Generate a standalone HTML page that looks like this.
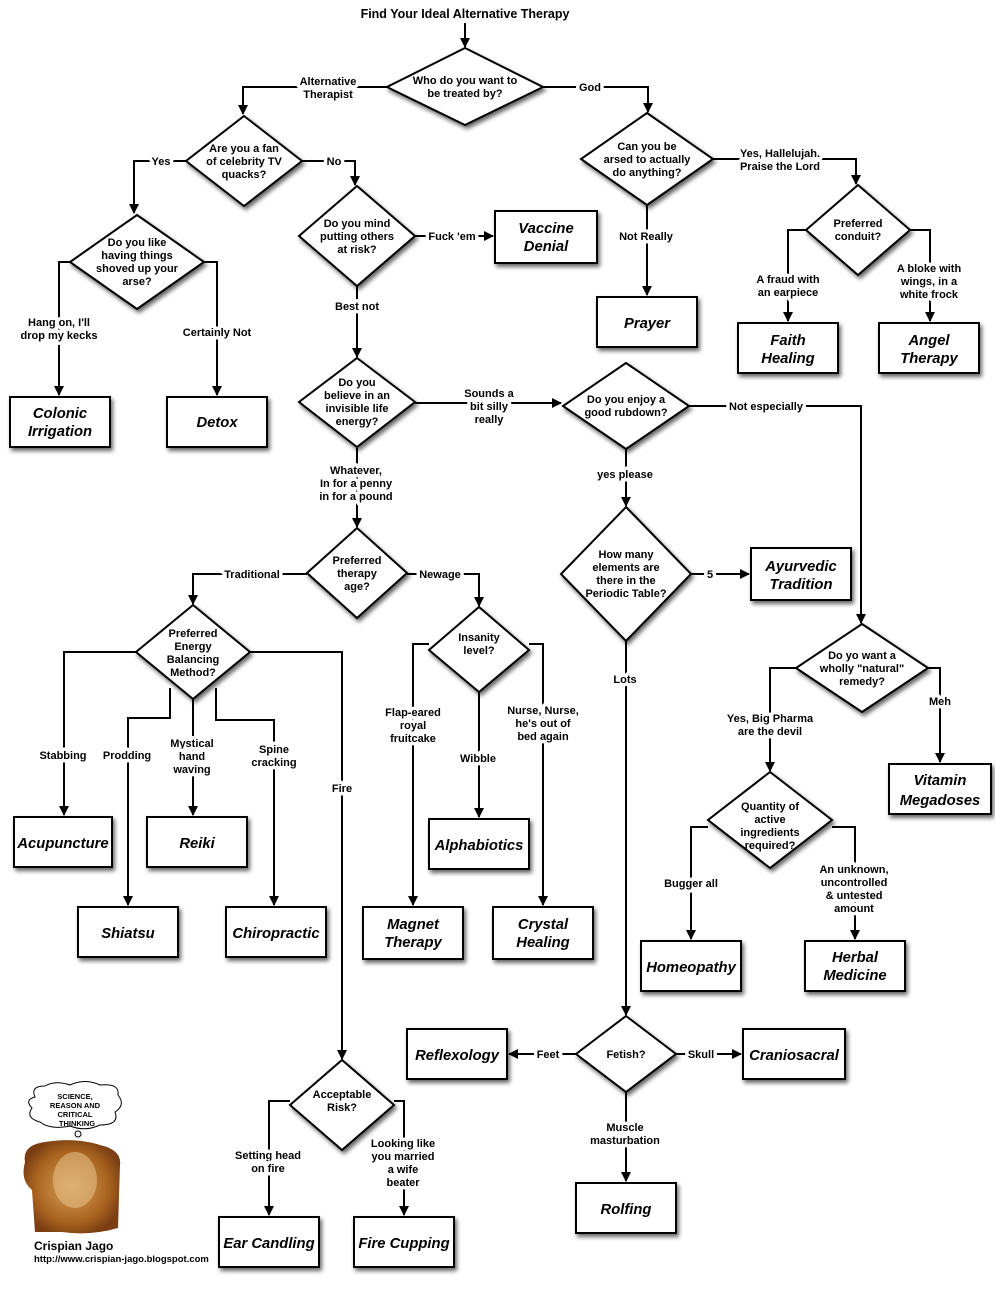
<!DOCTYPE html>
<html><head><meta charset="utf-8"><style>
html,body{margin:0;padding:0;background:#fff;}
svg{display:block;font-family:"Liberation Sans",Arial,sans-serif;}
.d{fill:#fff;stroke:#000;stroke-width:2;filter:url(#sh);}
.b{fill:#fff;stroke:#000;stroke-width:2;filter:url(#sh);}
.l{fill:none;stroke:#000;stroke-width:2;}
.a{fill:none;stroke:#000;stroke-width:2;marker-end:url(#ar);}
.t{font-size:11px;font-weight:bold;text-anchor:middle;}
.lb{font-size:11px;font-weight:bold;text-anchor:middle;paint-order:stroke;stroke:#fff;stroke-width:7px;stroke-linejoin:round;}
.bx{font-size:14.8px;font-weight:bold;font-style:italic;text-anchor:middle;}
</style></head><body>
<svg width="995" height="1298" viewBox="0 0 995 1298">
<defs>
<marker id="ar" markerWidth="10" markerHeight="10" refX="9" refY="5" orient="auto" markerUnits="userSpaceOnUse"><path d="M0,0 L10,5 L0,10 z" fill="#000"/></marker>
<filter id="sh" x="-20%" y="-20%" width="150%" height="150%"><feDropShadow dx="2" dy="3" stdDeviation="2" flood-color="#000" flood-opacity="0.6"/></filter>
<radialGradient id="tg" cx="50%" cy="50%" r="55%"><stop offset="0" stop-color="#d9a35a"/><stop offset="0.7" stop-color="#a8621f"/><stop offset="1" stop-color="#7a3e12"/></radialGradient>
</defs>

<text x="465" y="18" style="font-size:12.5px;font-weight:bold;text-anchor:middle">Find Your Ideal Alternative Therapy</text>

<path class="a" d="M465,23 V47"/>
<path class="a" d="M387,87 H243 V114"/>
<path class="a" d="M543,87 H648 V112"/>
<path class="a" d="M186,161 H134 V213"/>
<path class="a" d="M302,161 H355 V185"/>
<path class="a" d="M70,262 H59 V395"/>
<path class="a" d="M204,262 H217 V395"/>
<path class="a" d="M415,236 H493"/>
<path class="a" d="M357,286 V357"/>
<path class="a" d="M415,403 H561"/>
<path class="a" d="M357,448 V527"/>
<path class="a" d="M307,574 H193 V604"/>
<path class="a" d="M407,574 H479 V606"/>
<path class="a" d="M136,652 H64 V815"/>
<path class="a" d="M170,688 V718 H128 V905"/>
<path class="a" d="M193,699 V815"/>
<path class="a" d="M216,688 V720 H274 V905"/>
<path class="a" d="M250,652 H342 V1059"/>
<path class="a" d="M429,644 H413 V905"/>
<path class="a" d="M479,692 V817"/>
<path class="a" d="M529,644 H543 V905"/>
<path class="a" d="M647,205 V295"/>
<path class="a" d="M713,159 H856 V184"/>
<path class="a" d="M806,230 H788 V321"/>
<path class="a" d="M910,230 H930 V321"/>
<path class="a" d="M689,406 H861 V623"/>
<path class="a" d="M626,449 V506"/>
<path class="a" d="M691,574 H749"/>
<path class="a" d="M626,641 V1015"/>
<path class="a" d="M796,668 H770 V771"/>
<path class="a" d="M928,668 H940 V762"/>
<path class="a" d="M708,827 H691 V939"/>
<path class="a" d="M832,827 H855 V939"/>
<path class="a" d="M576,1054 H509"/>
<path class="a" d="M676,1054 H741"/>
<path class="a" d="M626,1092 V1181"/>
<path class="a" d="M290,1101 H269 V1215"/>
<path class="a" d="M394,1101 H404 V1215"/>

<polygon class="d" points="465,48 543,87 465,125 387,87"/>
<polygon class="d" points="244,116 302,161 244,206 186,161"/>
<polygon class="d" points="137,215 204,262 137,309 70,262"/>
<polygon class="d" points="357,186 415,236 357,286 299,236"/>
<polygon class="d" points="357,358 415,402 357,447 299,402"/>
<polygon class="d" points="357,528 407,573 357,618 307,573"/>
<polygon class="d" points="193,605 250,652 193,699 136,652"/>
<polygon class="d" points="479,607 529,650 479,692 429,650"/>
<polygon class="d" points="647,113 713,159 647,205 581,159"/>
<polygon class="d" points="858,185 910,230 858,275 806,230"/>
<polygon class="d" points="626,363 689,406 626,449 563,406"/>
<polygon class="d" points="626,507 691,574 626,641 561,574"/>
<polygon class="d" points="862,624 928,668 862,712 796,668"/>
<polygon class="d" points="770,772 832,820 770,868 708,820"/>
<polygon class="d" points="626,1016 676,1054 626,1092 576,1054"/>
<polygon class="d" points="342,1060 394,1105 342,1150 290,1105"/>

<text class="t" x="465" y="84">Who do you want to</text><text class="t" x="465" y="97">be treated by?</text>
<text class="t" x="244" y="152">Are you a fan</text><text class="t" x="244" y="165">of celebrity TV</text><text class="t" x="244" y="178">quacks?</text>
<text class="t" x="137" y="246">Do you like</text><text class="t" x="137" y="259">having things</text><text class="t" x="137" y="272">shoved up your</text><text class="t" x="137" y="285">arse?</text>
<text class="t" x="357" y="227">Do you mind</text><text class="t" x="357" y="240">putting others</text><text class="t" x="357" y="253">at risk?</text>
<text class="t" x="357" y="386">Do you</text><text class="t" x="357" y="399">believe in an</text><text class="t" x="357" y="412">invisible life</text><text class="t" x="357" y="425">energy?</text>
<text class="t" x="357" y="564">Preferred</text><text class="t" x="357" y="577">therapy</text><text class="t" x="357" y="590">age?</text>
<text class="t" x="193" y="637">Preferred</text><text class="t" x="193" y="650">Energy</text><text class="t" x="193" y="663">Balancing</text><text class="t" x="193" y="676">Method?</text>
<text class="t" x="479" y="641">Insanity</text><text class="t" x="479" y="654">level?</text>
<text class="t" x="647" y="150">Can you be</text><text class="t" x="647" y="163">arsed to actually</text><text class="t" x="647" y="176">do anything?</text>
<text class="t" x="858" y="227">Preferred</text><text class="t" x="858" y="240">conduit?</text>
<text class="t" x="626" y="403">Do you enjoy a</text><text class="t" x="626" y="416">good rubdown?</text>
<text class="t" x="626" y="558">How many</text><text class="t" x="626" y="571">elements are</text><text class="t" x="626" y="584">there in the</text><text class="t" x="626" y="597">Periodic Table?</text>
<text class="t" x="862" y="659">Do yo want a</text><text class="t" x="862" y="672">wholly "natural"</text><text class="t" x="862" y="685">remedy?</text>
<text class="t" x="770" y="810">Quantity of</text><text class="t" x="770" y="823">active</text><text class="t" x="770" y="836">ingredients</text><text class="t" x="770" y="849">required?</text>
<text class="t" x="626" y="1058">Fetish?</text>
<text class="t" x="342" y="1098">Acceptable</text><text class="t" x="342" y="1111">Risk?</text>

<text class="lb" x="328" y="85">Alternative</text><text class="lb" x="328" y="98">Therapist</text>
<text class="lb" x="590" y="91">God</text>
<text class="lb" x="161" y="165">Yes</text>
<text class="lb" x="334" y="165">No</text>
<text class="lb" x="59" y="326">Hang on, I'll</text><text class="lb" x="59" y="339">drop my kecks</text>
<text class="lb" x="217" y="336">Certainly Not</text>
<text class="lb" x="452" y="240">Fuck 'em</text>
<text class="lb" x="357" y="310">Best not</text>
<text class="lb" x="489" y="397">Sounds a</text><text class="lb" x="489" y="410">bit silly</text><text class="lb" x="489" y="423">really</text>
<text class="lb" x="356" y="474">Whatever,</text><text class="lb" x="356" y="487">In for a  penny</text><text class="lb" x="356" y="500">in for a pound</text>
<text class="lb" x="252" y="578">Traditional</text>
<text class="lb" x="440" y="578">Newage</text>
<text class="lb" x="63" y="759">Stabbing</text>
<text class="lb" x="127" y="759">Prodding</text>
<text class="lb" x="192" y="747">Mystical</text><text class="lb" x="192" y="760">hand</text><text class="lb" x="192" y="773">waving</text>
<text class="lb" x="274" y="753">Spine</text><text class="lb" x="274" y="766">cracking</text>
<text class="lb" x="342" y="792">Fire</text>
<text class="lb" x="413" y="716">Flap-eared</text><text class="lb" x="413" y="729">royal</text><text class="lb" x="413" y="742">fruitcake</text>
<text class="lb" x="478" y="762">Wibble</text>
<text class="lb" x="543" y="714">Nurse, Nurse,</text><text class="lb" x="543" y="727">he's out of</text><text class="lb" x="543" y="740">bed again</text>
<text class="lb" x="646" y="240">Not Really</text>
<text class="lb" x="780" y="157">Yes, Hallelujah.</text><text class="lb" x="780" y="170">Praise the Lord</text>
<text class="lb" x="788" y="283">A fraud with</text><text class="lb" x="788" y="296">an earpiece</text>
<text class="lb" x="929" y="272">A bloke with</text><text class="lb" x="929" y="285">wings, in a</text><text class="lb" x="929" y="298">white frock</text>
<text class="lb" x="766" y="410">Not especially</text>
<text class="lb" x="625" y="478">yes please</text>
<text class="lb" x="710" y="578">5</text>
<text class="lb" x="625" y="683">Lots</text>
<text class="lb" x="770" y="722">Yes, Big Pharma</text><text class="lb" x="770" y="735">are the devil</text>
<text class="lb" x="940" y="705">Meh</text>
<text class="lb" x="691" y="887">Bugger all</text>
<text class="lb" x="854" y="873">An unknown,</text><text class="lb" x="854" y="886">uncontrolled</text><text class="lb" x="854" y="899">&amp; untested</text><text class="lb" x="854" y="912">amount</text>
<text class="lb" x="548" y="1058">Feet</text>
<text class="lb" x="701" y="1058">Skull</text>
<text class="lb" x="625" y="1131">Muscle</text><text class="lb" x="625" y="1144">masturbation</text>
<text class="lb" x="268" y="1159">Setting head</text><text class="lb" x="268" y="1172">on fire</text>
<text class="lb" x="403" y="1147">Looking like</text><text class="lb" x="403" y="1160">you married</text><text class="lb" x="403" y="1173">a wife</text><text class="lb" x="403" y="1186">beater</text>

<rect class="b" x="10" y="397" width="100" height="50"/><text class="bx" x="60" y="418">Colonic</text><text class="bx" x="60" y="436">Irrigation</text>
<rect class="b" x="167" y="397" width="100" height="50"/><text class="bx" x="217" y="427">Detox</text>
<rect class="b" x="495" y="211" width="102" height="52"/><text class="bx" x="546" y="233">Vaccine</text><text class="bx" x="546" y="251">Denial</text>
<rect class="b" x="597" y="297" width="100" height="50"/><text class="bx" x="647" y="328">Prayer</text>
<rect class="b" x="738" y="323" width="100" height="50"/><text class="bx" x="788" y="345">Faith</text><text class="bx" x="788" y="363">Healing</text>
<rect class="b" x="879" y="323" width="100" height="50"/><text class="bx" x="929" y="345">Angel</text><text class="bx" x="929" y="363">Therapy</text>
<rect class="b" x="751" y="548" width="100" height="52"/><text class="bx" x="801" y="571">Ayurvedic</text><text class="bx" x="801" y="589">Tradition</text>
<rect class="b" x="889" y="764" width="102" height="50"/><text class="bx" x="940" y="785">Vitamin</text><text class="bx" x="940" y="805">Megadoses</text>
<rect class="b" x="14" y="817" width="98" height="50"/><text class="bx" x="63" y="848">Acupuncture</text>
<rect class="b" x="147" y="817" width="100" height="50"/><text class="bx" x="197" y="848">Reiki</text>
<rect class="b" x="429" y="819" width="100" height="50"/><text class="bx" x="479" y="850">Alphabiotics</text>
<rect class="b" x="78" y="907" width="100" height="50"/><text class="bx" x="128" y="938">Shiatsu</text>
<rect class="b" x="226" y="907" width="100" height="50"/><text class="bx" x="276" y="938">Chiropractic</text>
<rect class="b" x="363" y="907" width="100" height="52"/><text class="bx" x="413" y="929">Magnet</text><text class="bx" x="413" y="947">Therapy</text>
<rect class="b" x="493" y="907" width="100" height="52"/><text class="bx" x="543" y="929">Crystal</text><text class="bx" x="543" y="947">Healing</text>
<rect class="b" x="641" y="941" width="100" height="50"/><text class="bx" x="691" y="972">Homeopathy</text>
<rect class="b" x="805" y="941" width="100" height="50"/><text class="bx" x="855" y="962">Herbal</text><text class="bx" x="855" y="980">Medicine</text>
<rect class="b" x="407" y="1029" width="100" height="50"/><text class="bx" x="457" y="1060">Reflexology</text>
<rect class="b" x="743" y="1029" width="102" height="50"/><text class="bx" x="794" y="1060">Craniosacral</text>
<rect class="b" x="576" y="1183" width="100" height="50"/><text class="bx" x="626" y="1214">Rolfing</text>
<rect class="b" x="219" y="1217" width="100" height="50"/><text class="bx" x="269" y="1248">Ear Candling</text>
<rect class="b" x="354" y="1217" width="100" height="50"/><text class="bx" x="404" y="1248">Fire Cupping</text>

<path d="M35,1097 Q30,1086 45,1086 Q55,1080 70,1085 Q85,1078 100,1085 Q120,1083 118,1095 Q126,1105 115,1112 Q120,1125 100,1125 Q85,1132 70,1126 Q50,1130 40,1122 Q25,1118 32,1108 Q24,1100 35,1097 z" fill="#fff" stroke="#000" stroke-width="1"/>
<text x="75" y="1099" style="font-size:7.5px;font-weight:bold;text-anchor:middle">SCIENCE,</text>
<text x="75" y="1108" style="font-size:7.5px;font-weight:bold;text-anchor:middle">REASON AND</text>
<text x="75" y="1117" style="font-size:7.5px;font-weight:bold;text-anchor:middle">CRITICAL</text>
<text x="77" y="1126" style="font-size:7.5px;font-weight:bold;text-anchor:middle">THINKING</text>
<circle cx="78" cy="1134" r="3" fill="#fff" stroke="#000" stroke-width="1"/>
<path d="M25,1162 Q22,1145 45,1142 Q75,1137 100,1145 Q122,1150 120,1165 L118,1228 Q90,1236 62,1232 L35,1232 L32,1190 Q20,1180 25,1162 z" fill="url(#tg)"/>
<ellipse cx="75" cy="1180" rx="22" ry="28" fill="#e2bb82" opacity="0.6"/>
<text x="34" y="1250" style="font-size:12px;font-weight:bold">Crispian Jago</text>
<text x="34" y="1262" style="font-size:9.5px;font-weight:bold">http://www.crispian-jago.blogspot.com</text>
</svg>
</body></html>
